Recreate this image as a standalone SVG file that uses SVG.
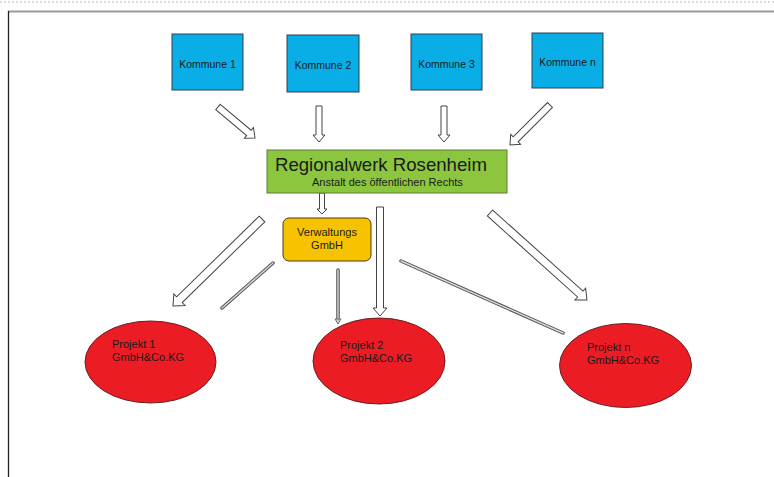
<svg xmlns="http://www.w3.org/2000/svg" width="774" height="477" viewBox="0 0 774 477">
<style>
text{font-family:"Liberation Sans",Arial,sans-serif;fill:#1a1a1a}
.k{fill:#0AAEE6;stroke:#2b4150;stroke-width:1}
.kt{font-size:10.5px;text-anchor:middle}
.p{fill:#EC1C24;stroke:#6a2020;stroke-width:1}
.pt{font-size:11px}
.ba{fill:#fff;stroke:#444;stroke-width:1}
.tl1{stroke:#555;stroke-width:3.5;stroke-linecap:round;fill:none}
.tl2{stroke:#d8d8d8;stroke-width:1.4;stroke-linecap:round;fill:none}
</style>
<rect width="774" height="477" fill="#fff"/>
<line x1="0" y1="2" x2="774" y2="2" stroke="#ddd" stroke-width="2" stroke-dasharray="2,2"/>
<line x1="8" y1="11.5" x2="774" y2="11.5" stroke="#999" stroke-width="2"/>
<line x1="8.5" y1="11" x2="8.5" y2="477" stroke="#222" stroke-width="1.3"/>

<g id="connectors">
  <g transform="translate(218,107) rotate(39.96)"><polygon class="ba" points="0,-3.5 40.3,-3.5 40.3,-7 48.3,0 40.3,7 40.3,3.5 0,3.5"/></g>
  <g transform="translate(319,106) rotate(90)"><polygon class="ba" points="0,-3 29,-3 29,-6 36,0 29,6 29,3 0,3"/></g>
  <g transform="translate(444,106) rotate(90)"><polygon class="ba" points="0,-3 29,-3 29,-6 36,0 29,6 29,3 0,3"/></g>
  <g transform="translate(550,105) rotate(135)"><polygon class="ba" points="0,-3.5 48.6,-3.5 48.6,-7 56.6,0 48.6,7 48.6,3.5 0,3.5"/></g>
  <g transform="translate(322,193) rotate(90)"><polygon class="ba" points="0,-2.5 16,-2.5 16,-5 21,0 16,5 16,2.5 0,2.5"/></g>
  <g transform="translate(262,219) rotate(135.65)"><polygon class="ba" points="0,-4 115.5,-4 115.5,-8 124.5,0 115.5,8 115.5,4 0,4"/></g>
  <g transform="translate(380,207) rotate(90)"><polygon class="ba" points="0,-3.5 101,-3.5 101,-7 109,0 101,7 101,3.5 0,3.5"/></g>
  <g transform="translate(490,213) rotate(41.9)"><polygon class="ba" points="0,-4 121.3,-4 121.3,-8 130.3,0 121.3,8 121.3,4 0,4"/></g>
  <line class="tl1" x1="273" y1="263" x2="222" y2="308"/>
  <line class="tl2" x1="273" y1="263" x2="222" y2="308"/>
  <line class="tl1" x1="401" y1="261" x2="563" y2="333"/>
  <line class="tl2" x1="401" y1="261" x2="563" y2="333"/>
  <line class="tl1" x1="338" y1="270" x2="338" y2="320"/>
  <line class="tl2" x1="338" y1="270" x2="338" y2="320"/>
  <polygon points="335,319 341,319 338,324" fill="#ccc" stroke="#555" stroke-width="0.8"/>
</g>

<g id="kommune1"><rect class="k" x="172" y="34" width="71" height="56"/><text class="kt" x="207.5" y="68">Kommune 1</text></g>
<g id="kommune2"><rect class="k" x="287" y="35" width="72" height="57"/><text class="kt" x="323" y="69">Kommune 2</text></g>
<g id="kommune3"><rect class="k" x="411" y="34" width="71" height="56"/><text class="kt" x="446.5" y="68">Kommune 3</text></g>
<g id="kommunen"><rect class="k" x="532" y="33" width="71" height="55"/><text class="kt" x="567.5" y="66">Kommune n</text></g>

<g id="regionalwerk">
  <rect x="267" y="150" width="240" height="43" fill="#8CC63F" stroke="#5a7a3a" stroke-width="1"/>
  <text x="275" y="171" font-size="18.6px">Regionalwerk Rosenheim</text>
  <text x="312" y="186" font-size="11px">Anstalt des öffentlichen Rechts</text>
</g>

<g id="verwaltung">
  <rect x="283" y="218" width="88" height="43" rx="6" fill="#F7C300" stroke="#4a3a10" stroke-width="1"/>
  <text x="327" y="236" font-size="11px" text-anchor="middle">Verwaltungs</text>
  <text x="327" y="249" font-size="11px" text-anchor="middle">GmbH</text>
</g>

<g id="projekt1">
  <ellipse class="p" cx="150.5" cy="362" rx="65.5" ry="41"/>
  <text class="pt" x="112" y="348">Projekt 1</text>
  <text class="pt" x="112" y="361">GmbH&amp;Co.KG</text>
</g>
<g id="projekt2">
  <ellipse class="p" cx="379" cy="361" rx="66" ry="43"/>
  <text class="pt" x="340" y="349">Projekt 2</text>
  <text class="pt" x="340" y="362">GmbH&amp;Co.KG</text>
</g>
<g id="projektn">
  <ellipse class="p" cx="625.5" cy="365.5" rx="66" ry="42"/>
  <text class="pt" x="587" y="351">Projekt n</text>
  <text class="pt" x="587" y="364">GmbH&amp;Co.KG</text>
</g>
</svg>
